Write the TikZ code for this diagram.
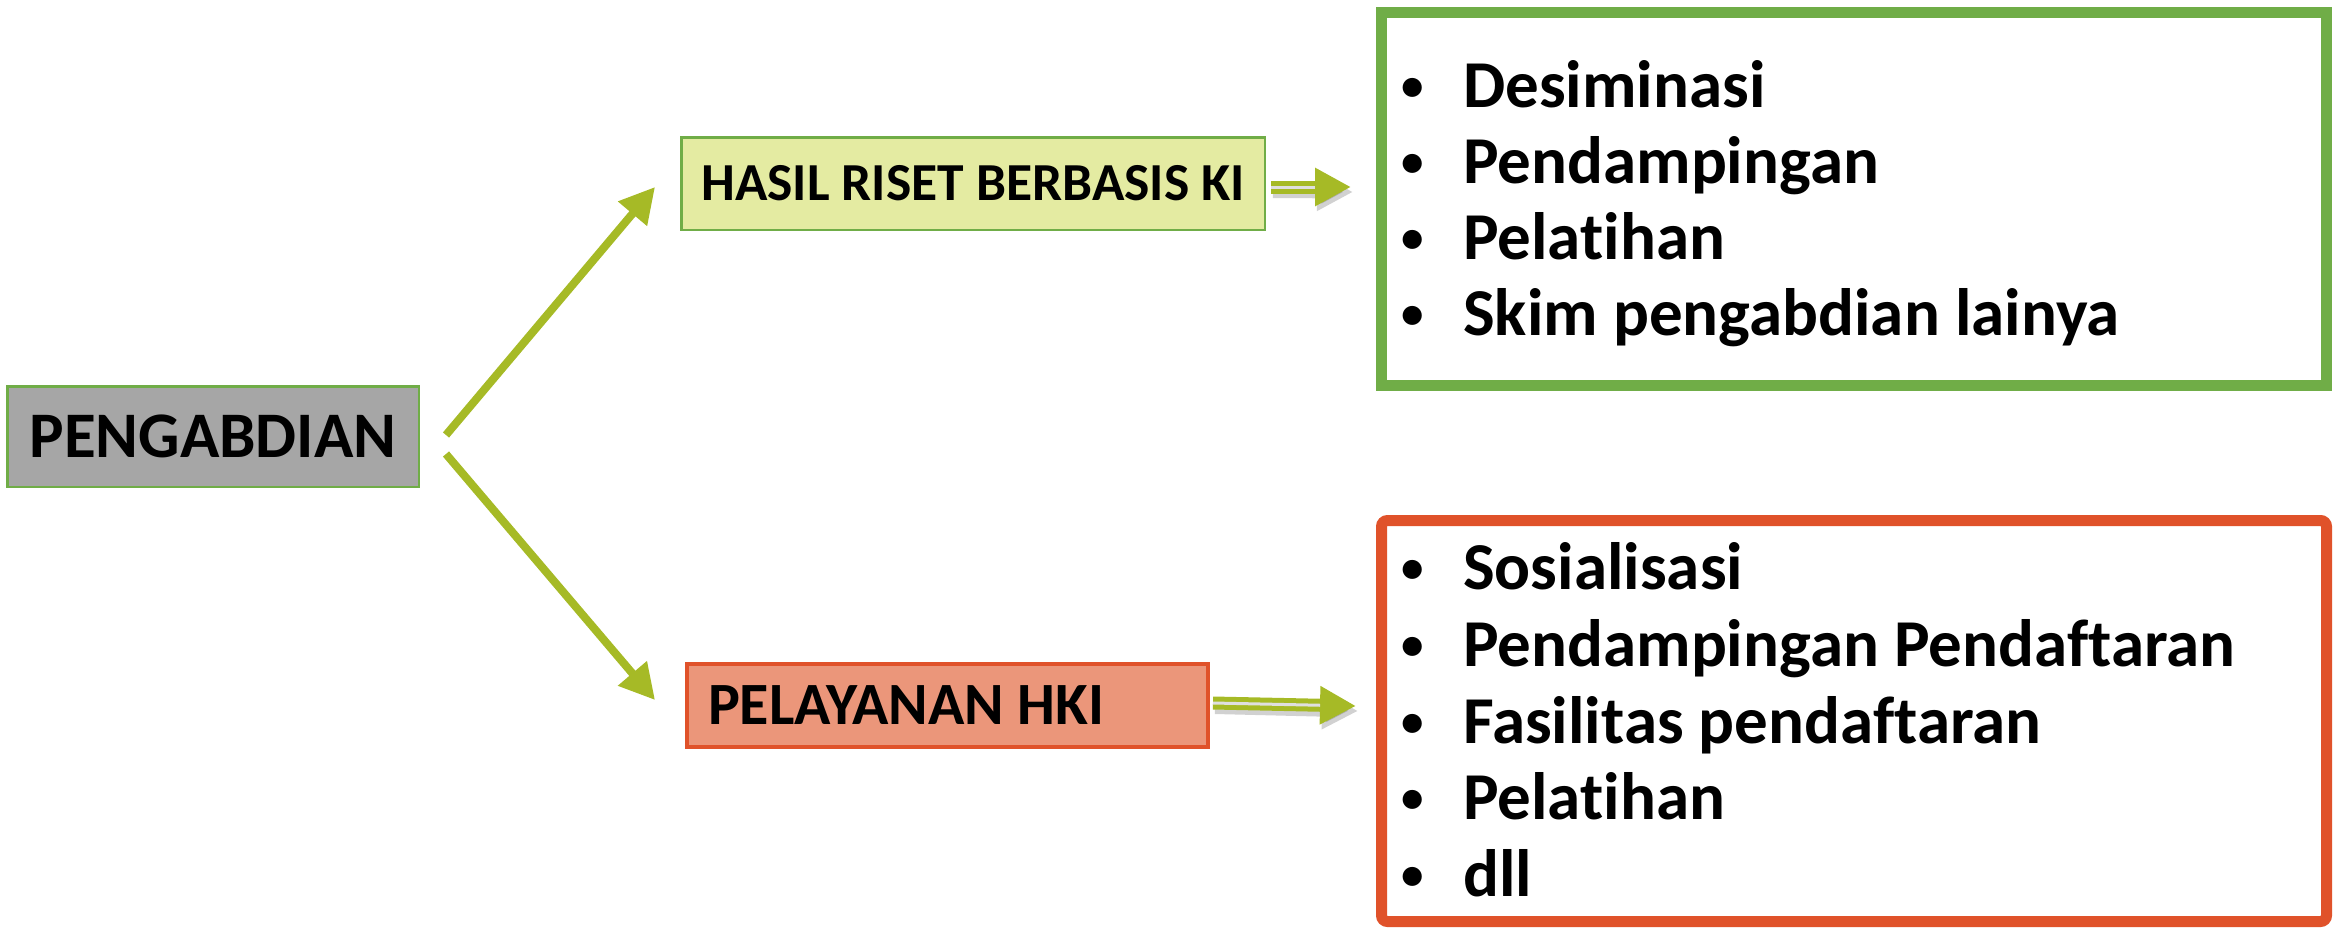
\documentclass[tikz,border=0pt]{standalone}
\usepackage{fontspec}
\setmainfont{Carlito}[Ligatures=NoCommon]
\usetikzlibrary{arrows.meta,calc}
\definecolor{garrow}{HTML}{A6BA26}
\definecolor{ggreen}{HTML}{70AD47}
\definecolor{rred}{HTML}{E0522A}
\definecolor{boxgray}{HTML}{A6A6A6}
\definecolor{boxlime}{HTML}{E4EBA2}
\definecolor{boxsalmon}{HTML}{EB967A}
\newcommand{\lbul}{\makebox[62pt][l]{\raisebox{7pt}{\fontsize{45}{45}\selectfont •}}}
\tikzset{
  smallbox/.style={inner sep=0pt, font=\bfseries},
  bigarrow/.style={draw=garrow, line width=8pt, -{Triangle[length=35pt,width=36pt]}},
  dblarrow/.style={draw=garrow, line width=13pt, -{Triangle[length=36pt,width=36pt]}},
  dblgap/.style={draw=gray!25, line width=3pt, shorten >=36pt},
  dblshadow/.style={draw=black, opacity=0.18, line width=13pt, -{Triangle[length=36pt,width=36pt]}},
  listtxt/.style={anchor=base west, inner sep=0pt, font=\fontsize{67}{80}\selectfont\bfseries},
}
\begin{document}
\begin{tikzpicture}[x=1pt,y=-1pt]
\useasboundingbox (0,0) rectangle (2336,929);

% big boxes
\node[draw=ggreen, line width=11pt, minimum width=945pt, minimum height=373pt, inner sep=0pt] (gbox) at (1854,199) {};
\node[draw=rred, line width=11pt, rounded corners=6pt, minimum width=945pt, minimum height=401pt, inner sep=0pt] (rbox) at (1854,721) {};

% small boxes
\node[smallbox, draw=ggreen, line width=2.5pt, fill=boxgray, minimum width=411.5pt, minimum height=100.5pt,
      font=\fontsize{65}{70}\selectfont\bfseries] (peng) at (213,436.5) {PENGABDIAN};
\node[smallbox, draw=ggreen, line width=2.5pt, fill=boxlime, minimum width=583.5pt, minimum height=92.5pt,
      font=\fontsize{53.5}{60}\selectfont\bfseries] (hasil) at (973,183.5) {HASIL RISET BERBASIS KI};
\node[smallbox, draw=rred, line width=4pt, fill=boxsalmon, minimum width=521pt, minimum height=83pt, inner xsep=21pt,
      font=\fontsize{60}{60}\selectfont\bfseries] (pel) at (947.5,705.5) {\makebox[479pt][l]{PELAYANAN HKI}};

% list texts
\node[listtxt] (g1) at (1401,107) {\lbul Desiminasi};
\node[listtxt] (g2) at (1401,183) {\lbul Pendampingan};
\node[listtxt] (g3) at (1401,259) {\lbul Pelatihan};
\node[listtxt] (g4) at (1401,335) {\lbul Skim pengabdian lainya};

\node[listtxt] (r1) at (1401,589) {\lbul Sosialisasi};
\node[listtxt] (r2) at (1401,666) {\lbul Pendampingan Pendaftaran};
\node[listtxt] (r3) at (1401,743) {\lbul Fasilitas pendaftaran};
\node[listtxt] (r4) at (1401,819) {\lbul Pelatihan};
\node[listtxt] (r5) at (1401,896) {\lbul dll};

% arrows from PENGABDIAN
\draw[bigarrow] ($(peng.east)+(26,-1.5)$) -- ($(hasil.west)+(-25,3.5)$);
\draw[bigarrow] ($(peng.east)+(26,17.5)$) -- ($(pel.west)+(-30,-5.5)$);

% double arrows with shadow
\draw[dblshadow] ($(hasil.east)+(7,8)$) -- ($(gbox.west)+(-23,-7)$);
\draw[dblarrow] ($(hasil.east)+(5,3.5)$) -- ($(gbox.west)+(-25,-12)$);
\draw[dblgap] ($(hasil.east)+(5,3.5)$) -- ($(gbox.west)+(-25,-12)$);

\draw[dblshadow] ($(pel.east)+(5,2)$) -- ($(rbox.west)+(-18,-10)$);
\draw[dblarrow] ($(pel.east)+(3,-2.5)$) -- ($(rbox.west)+(-20,-15)$);
\draw[dblgap] ($(pel.east)+(3,-2.5)$) -- ($(rbox.west)+(-20,-15)$);
\end{tikzpicture}
\end{document}
